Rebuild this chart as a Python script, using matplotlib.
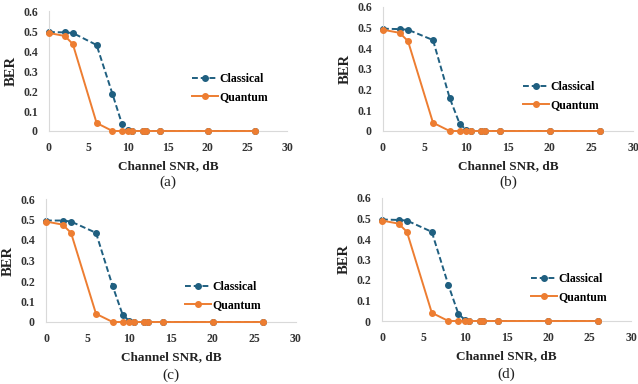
import matplotlib
matplotlib.use("Agg")
import matplotlib.pyplot as plt

snr = [0, 2, 3, 6, 8, 9.2, 10, 10.5, 11.8, 12.2, 14, 20, 26]

classical_a = [0.495, 0.493, 0.49, 0.43, 0.185, 0.035, 0.005, 0, 0, 0, 0, 0, 0]
quantum_a   = [0.49, 0.475, 0.435, 0.04, 0, 0, 0, 0, 0, 0, 0, 0, 0]
classical_b = [0.495, 0.493, 0.49, 0.44, 0.16, 0.035, 0.005, 0, 0, 0, 0, 0, 0]
quantum_b   = [0.49, 0.475, 0.435, 0.04, 0, 0, 0, 0, 0, 0, 0, 0, 0]
classical_c = [0.495, 0.495, 0.49, 0.435, 0.175, 0.035, 0.005, 0, 0, 0, 0, 0, 0]
quantum_c   = [0.49, 0.475, 0.435, 0.04, 0, 0, 0, 0, 0, 0, 0, 0, 0]
classical_d = [0.495, 0.493, 0.49, 0.435, 0.175, 0.035, 0.005, 0, 0, 0, 0, 0, 0]
quantum_d   = [0.49, 0.475, 0.435, 0.04, 0, 0, 0, 0, 0, 0, 0, 0, 0]

panel_labels = ["(a)", "(b)", "(c)", "(d)"]
x_ticks = [0, 5, 10, 15, 20, 25, 30]
y_ticks = [0, 0.1, 0.2, 0.3, 0.4, 0.5, 0.6]
y_ticklabels = ["0", "0.1", "0.2", "0.3", "0.4", "0.5", "0.6"]

C_BLUE = "#1f5f80"
C_ORANGE = "#ed7d31"
AX_COL = "#d9d9d9"

plt.rcParams['font.family'] = ['Liberation Serif', 'DejaVu Serif']

fig = plt.figure(figsize=(6.38, 3.84), dpi=100)

# axes rects in pixel terms: (left, right, top, bottom)
px_rects = [(49, 287, 11, 131), (383, 633, 7, 131), (46, 296, 199, 322), (382, 631, 198, 321)]
legend_pos = [(0.60, 0.36), (0.56, 0.28), (0.556, 0.21), (0.598, 0.265)]
label_y = [182, 182, 375, 374]

datasets = [(classical_a, quantum_a), (classical_b, quantum_b),
            (classical_c, quantum_c), (classical_d, quantum_d)]

W, H = 638, 384
for i, ((l, r, t, b), (cl, qu)) in enumerate(zip(px_rects, datasets)):
    ax = fig.add_axes([l / W, 1 - b / H, (r - l) / W, (b - t) / H])
    ax.plot(snr, cl, color=C_BLUE, linestyle=(0, (3, 1.5)), linewidth=1.4,
            marker='o', markersize=4, label='Classical', zorder=2)
    ax.plot(snr, qu, color=C_ORANGE, linestyle='-', linewidth=1.4,
            marker='o', markersize=4, label='Quantum', zorder=3)
    ax.set_xlim(0, 30)
    ax.set_ylim(0, 0.6)
    ax.set_xticks(x_ticks)
    ax.set_yticks(y_ticks)
    ax.set_yticklabels(y_ticklabels)
    for s in ['top', 'right']:
        ax.spines[s].set_visible(False)
    for s in ['left', 'bottom']:
        ax.spines[s].set_color(AX_COL)
        ax.spines[s].set_linewidth(0.8)
    ax.tick_params(axis='both', length=0, labelsize=8.5, pad=8)
    for lab in ax.get_xticklabels() + ax.get_yticklabels():
        lab.set_fontweight('bold')
        lab.set_color('#333333')
    ax.set_xlabel('Channel SNR, dB', fontsize=9.5, fontweight='bold', labelpad=4, color='#222222')
    ax.set_ylabel('BER', fontsize=10.5, fontweight='bold', labelpad=4, color='#222222')
    for ln in ax.lines:
        ln.set_clip_on(False)
    leg = ax.legend(loc='center left', bbox_to_anchor=legend_pos[i], frameon=False,
                    prop={'family': 'Liberation Serif', 'weight': 'bold', 'size': 8.5},
                    handlelength=2.2, handletextpad=0.1, labelspacing=0.5,
                    borderpad=0, borderaxespad=0)
    fig.text(((l + r) / 2) / W, 1 - label_y[i] / H, panel_labels[i],
             ha='center', va='center', fontsize=11, color='#222222')

fig.savefig('out.png', dpi=100)
